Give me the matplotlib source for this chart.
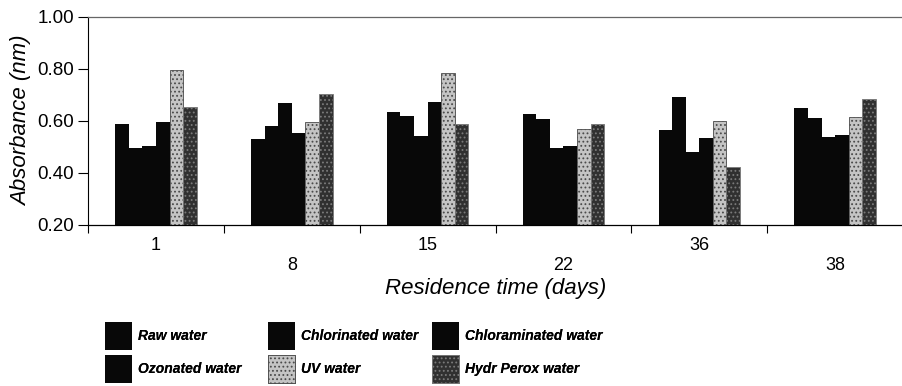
import numpy as np
import matplotlib
matplotlib.use("Agg")
import matplotlib.pyplot as plt

days = ["1", "8", "15", "22", "36", "38"]

raw = [0.587, 0.529, 0.635, 0.626, 0.565, 0.648]
chlorinated = [0.497, 0.581, 0.620, 0.606, 0.690, 0.610]
chloraminated = [0.505, 0.667, 0.542, 0.497, 0.482, 0.537]
ozonated = [0.597, 0.552, 0.671, 0.503, 0.535, 0.544]
uv = [0.795, 0.597, 0.783, 0.569, 0.600, 0.616]
hydr_perox = [0.654, 0.702, 0.588, 0.588, 0.421, 0.683]

series = [
    ("Raw water", raw),
    ("Chlorinated water", chlorinated),
    ("Chloraminated water", chloraminated),
    ("Ozonated water", ozonated),
    ("UV water", uv),
    ("Hydr Perox water", hydr_perox),
]

styles = [
    dict(color="#080808"),
    dict(color="#080808"),
    dict(color="#080808"),
    dict(color="#080808"),
    dict(facecolor="#c4c4c4", edgecolor="#4a4a4a", hatch="....", linewidth=0.6),
    dict(facecolor="#303030", edgecolor="#7a7a7a", hatch="....", linewidth=0.6),
]

plt.rcParams["font.family"] = ["Liberation Sans", "DejaVu Sans"]
plt.rcParams["hatch.linewidth"] = 0.8

fig = plt.figure(figsize=(9.03, 3.86), dpi=100)
ax = fig.add_axes([0.0975, 0.4171, 0.9025, 0.5396])

x = np.arange(len(days))
width = 0.1
handles = []
for i, (name, vals) in enumerate(series):
    b = ax.bar(x + (i - 2.5) * width, vals, width, label=name, **styles[i])
    handles.append(b)

ax.set_xlim(-0.5, len(days) - 0.5)
ax.set_ylim(0.2, 1.0)
ax.set_yticks(np.arange(0.2, 1.01, 0.2))
ax.set_yticklabels(["%.2f" % v for v in np.arange(0.2, 1.01, 0.2)], fontsize=13.5)

# staggered category labels
ax.set_xticks(x)
ax.set_xticklabels([d if i % 2 == 0 else "\n" + d for i, d in enumerate(days)], fontsize=13)
ax.tick_params(axis="x", which="major", length=0, pad=9)
ax.set_xticks(np.arange(-0.5, len(days), 1.0), minor=True)
ax.tick_params(axis="x", which="minor", length=6, width=0.8, direction="out")
ax.tick_params(axis="y", length=7, width=0.8, direction="out", pad=3)

ax.spines["right"].set_visible(False)
ax.spines["top"].set_color("#666666")
ax.spines["top"].set_linewidth(0.9)
ax.spines["left"].set_linewidth(0.8)
ax.spines["bottom"].set_linewidth(0.9)

ax.set_xlabel("Residence time (days)", fontsize=16, style="italic", labelpad=3)
ax.set_ylabel("Absorbance (nm)", fontsize=16, style="italic", labelpad=4)

# one legend per column so the columns sit where they are in the original
cols = [(0, 3, 0.1163), (1, 4, 0.2968), (2, 5, 0.4784)]
for a, b, xpos in cols:
    leg = fig.legend([handles[a], handles[b]], [series[a][0], series[b][0]],
                     loc="upper left", bbox_to_anchor=(xpos, 0.1658),
                     frameon=False, borderpad=0, borderaxespad=0,
                     prop=dict(weight="bold", style="italic", size=10),
                     handlelength=1.95, handleheight=2.75, handletextpad=0.45,
                     labelspacing=0.36)
    fig.add_artist(leg)

fig.savefig("out.png", dpi=100)
